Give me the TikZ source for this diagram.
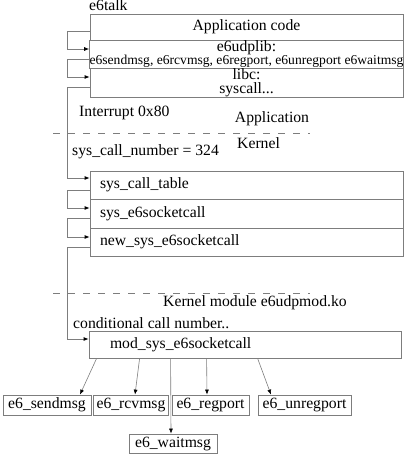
\documentclass[tikz,border=0pt]{standalone}
\usepackage{fontspec}
\setmainfont{Liberation Serif}
\usetikzlibrary{arrows.meta}
\definecolor{ln}{RGB}{125,125,125}
\begin{document}
\begin{tikzpicture}[x=1pt,y=-1pt,
  every node/.style={font=\fontsize{15.7}{17}\selectfont, text=black},
  row/.style={draw=ln, line width=0.8pt, minimum width=313pt, inner sep=0pt, align=center},
  lrow/.style={draw=ln, line width=0.8pt, minimum width=313pt, text width=293pt, inner xsep=10pt, inner ysep=0pt, align=left},
  leaf/.style={draw=ln, line width=0.8pt, minimum height=20pt, inner ysep=0pt},
  lbl/.style={inner sep=0pt},
  loop/.style={draw=ln, line width=0.8pt, -{Latex[length=5pt,width=4pt,color=black]}},
  call/.style={draw=ln, line width=0.6pt, -{Latex[length=5pt,width=4pt,color=black]}},
  sep/.style={draw=ln, line width=0.8pt, dash pattern=on 7pt off 8pt}
]
\useasboundingbox (0,0) rectangle (404,454);

% application box
\node[lbl, anchor=base west] (talk) at (89,11) {e6talk};
\node[row, minimum height=26pt] (app) at (246.5,27) {Application code};
\node[row, minimum height=28pt] (lib) at (246.5,54)
  {e6udplib:\\[-4.5pt]{\fontsize{13.6}{15}\selectfont e6sendmsg, e6rcvmsg, e6regport, e6unregport e6waitmsg}};
\node[row, minimum height=29pt] (libc) at (246.5,82.5) {libc:\\[-3.5pt]syscall...};

\node[lbl, anchor=west] (intr) at (79,113) {Interrupt 0x80};
\node[lbl] (appl) at (272,119) {Application};
\coordinate (d1a) at (53,133);
\coordinate (d1b) at (310,133);
\draw[sep] (d1a) -- (d1b);
\node[lbl, anchor=west] (kern) at (237,143) {Kernel};
\node[lbl, anchor=west] (num) at (72,152) {sys\_call\_number = 324};

% kernel box
\node[lrow, minimum height=28pt] (sct) at (246.5,185) {sys\_call\_table};
\node[lrow, minimum height=29pt] (sys) at (246.5,213.5) {sys\_e6socketcall};
\node[lrow, minimum height=28pt] (new) at (246.5,242) {new\_sys\_e6socketcall};

\coordinate (d2a) at (53,293);
\coordinate (d2b) at (310,293);
\draw[sep] (d2a) -- (d2b);
\node[lbl, anchor=west] (kmod) at (163,303) {Kernel module e6udpmod.ko};
\node[lbl, anchor=west] (cond) at (73,323) {conditional call number..};

% module box
\node[draw=ln, line width=0.8pt, minimum width=312pt, minimum height=27pt, text width=270pt, inner xsep=21pt, inner ysep=0pt, align=left] (mod) at (245,344.5) {mod\_sys\_e6socketcall};

% leaves
\node[leaf, minimum width=88pt] (send) at (47,405) {e6\_sendmsg};
\node[leaf, minimum width=74pt] (rcv) at (131,405) {e6\_rcvmsg};
\node[leaf, minimum width=77pt] (reg) at (210.5,405) {e6\_regport};
\node[leaf, minimum width=93pt] (unreg) at (304.5,405) {e6\_unregport};
\node[leaf, minimum width=88pt, minimum height=19pt] (wait) at (173,443.5) {e6\_waitmsg};

% loops on the left
\draw[loop] ([yshift=-4pt]app.west) -- ++(-22,0) |- ([yshift=5pt]lib.west);
\draw[loop] ([yshift=-5pt]lib.west) -- ++(-22,0) |- ([yshift=5.5pt]libc.west);
\draw[loop] ([yshift=-4.5pt]libc.west) -- ++(-22,0) |- ([yshift=7pt]sct.west);
\draw[loop] ([yshift=-5pt]sct.west) -- ++(-22,0) |- ([yshift=5.5pt]sys.west);
\draw[loop] ([yshift=-4.5pt]sys.west) -- ++(-22,0) |- ([yshift=5pt]new.west);
\draw[loop] ([yshift=-5pt]new.west) -- ++(-22,0) |- ([yshift=5.5pt]mod.west);

% calls from the module
\draw[call] ([xshift=8pt]mod.south west) -- ([xshift=33pt]send.north);
\draw[call] ([xshift=51pt]mod.south west) -- ([xshift=4pt]rcv.north);
\draw[call] ([xshift=82pt]mod.south west) -- ([xshift=-2pt]wait.north);
\draw[call] ([xshift=118pt]mod.south west) -- ([xshift=-3.5pt]reg.north);
\draw[call] ([xshift=169pt]mod.south west) -- ([xshift=-33.5pt]unreg.north);
\end{tikzpicture}
\end{document}
